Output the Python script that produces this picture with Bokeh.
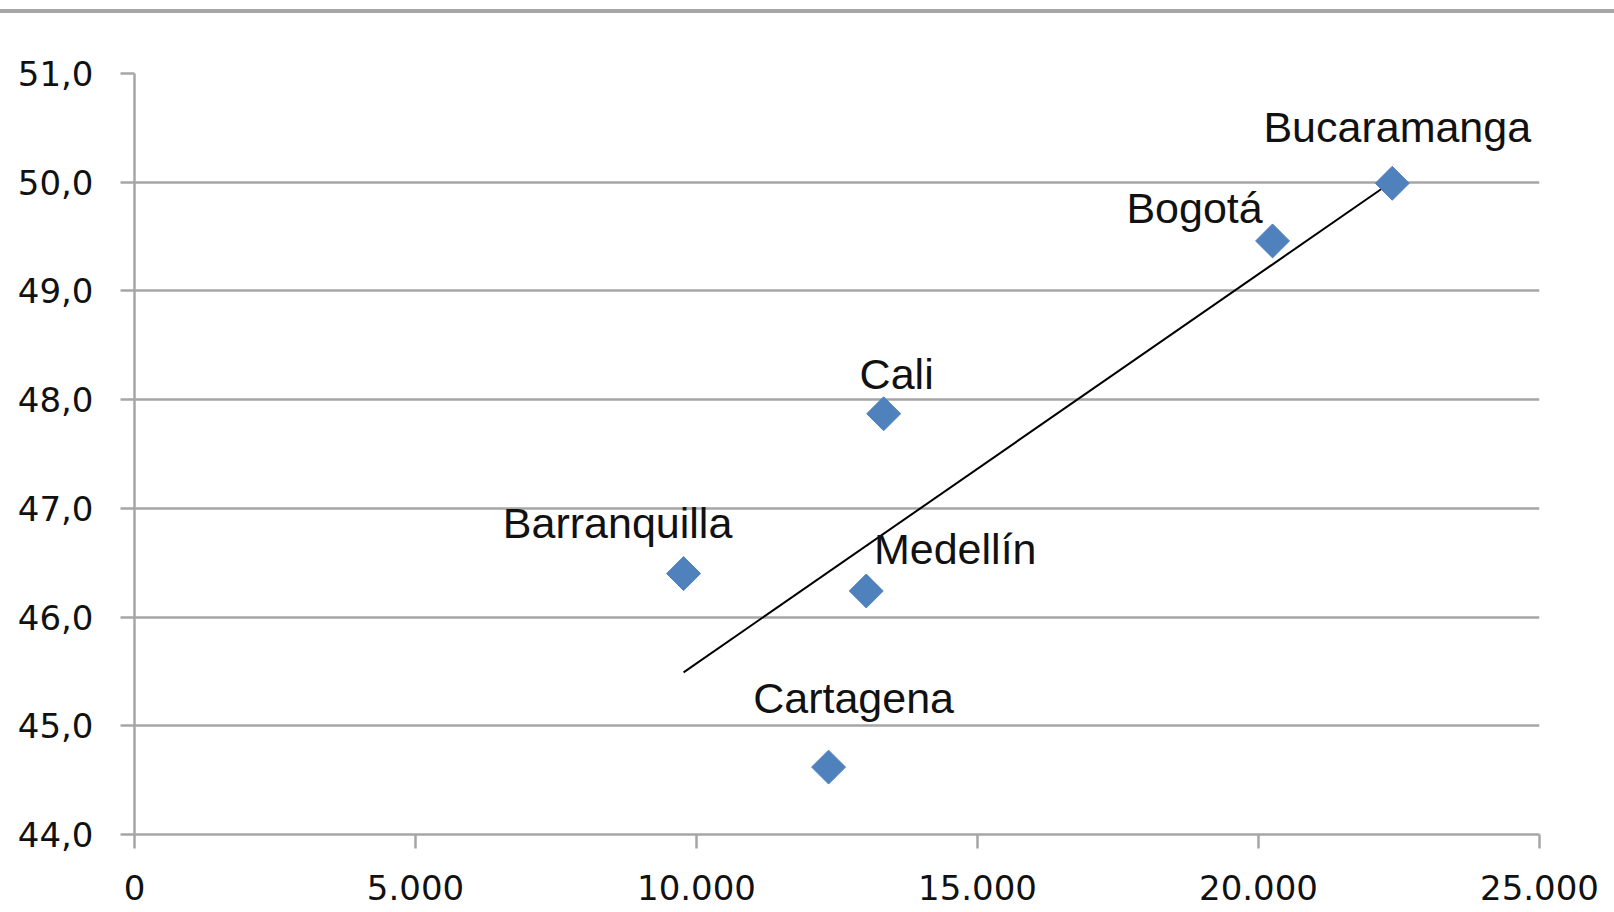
import numpy as np
from bokeh.plotting import figure
from bokeh.models import (ColumnDataSource, Range1d, FixedTicker,
                          CustomJSTickFormatter, Div)
from bokeh.layouts import column
from bokeh.core.properties import value
from bokeh.embed import file_html
from bokeh.resources import INLINE

# ---- data ----
cities = ["Bucaramanga", "Bogotá", "Cali", "Barranquilla", "Medellín", "Cartagena"]
x_vals = [22380, 20250, 13330, 9770, 13020, 12350]
y_vals = [49.99, 49.46, 47.87, 46.40, 46.24, 44.62]
x_ticks = [0, 5000, 10000, 15000, 20000, 25000]
y_ticks = [44, 45, 46, 47, 48, 49, 50, 51]

# ---- label placement (style, screen px) ----
label_dx = [5, -78, 13, -66, 89, 25]
label_dy = [-56, -33, -40, -51, -42, -69]

# trendline (linear least squares, as in the original spreadsheet)
slope, intercept = np.polyfit(x_vals, y_vals, 1)
tx = [min(x_vals), max(x_vals)]
ty = [slope * v + intercept for v in tx]

W = 1614
gray = "#a6a6a6"

top_bar = Div(text="", width=W, height=4, margin=(9, 0, 0, 0),
              styles={"background-color": gray})

p = figure(width=W, height=899, toolbar_location=None, output_backend="svg",
           x_range=Range1d(0, 25000), y_range=Range1d(44, 51),
           min_border_left=134, min_border_right=75,
           min_border_top=60, min_border_bottom=78)
p.outline_line_color = None
p.background_fill_color = "white"
p.border_fill_color = "white"

p.xgrid.visible = False
p.ygrid.grid_line_color = gray
p.ygrid.grid_line_width = 2.5
p.ygrid.ticker = FixedTicker(ticks=y_ticks)

for ax in (p.xaxis[0], p.yaxis[0]):
    ax.axis_line_color = gray
    ax.axis_line_width = 2.5
    ax.major_tick_line_color = gray
    ax.major_tick_line_width = 2.5
    ax.major_tick_out = 14
    ax.major_tick_in = 0
    ax.minor_tick_line_color = None
    ax.major_label_text_font = "DejaVu Sans"
    ax.major_label_text_font_size = "34px"
    ax.major_label_text_color = "#111111"

p.xaxis[0].ticker = FixedTicker(ticks=x_ticks)
p.yaxis[0].ticker = FixedTicker(ticks=y_ticks)
p.xaxis[0].major_label_standoff = 26
p.yaxis[0].major_label_standoff = 27
p.xaxis[0].formatter = CustomJSTickFormatter(
    code="return Math.round(tick).toString().replace(/\\B(?=(\\d{3})+(?!\\d))/g, '.');")
p.yaxis[0].formatter = CustomJSTickFormatter(
    code="return tick.toFixed(1).replace('.', ',');")

# trendline
p.line(tx, ty, line_color="black", line_width=2)

src = ColumnDataSource(dict(x=x_vals, y=y_vals, name=cities,
                            dx=label_dx, dy=label_dy))
p.scatter("x", "y", source=src, marker="square", size=24, angle=np.pi / 4,
          fill_color="#4F81BD", line_color="#4F81BD", line_width=1)

p.text("x", "y", text="name", source=src, x_offset="dx", y_offset="dy",
       text_align="center", text_baseline="alphabetic",
       text_font=value("Liberation Sans"), text_font_size="43px",
       text_color="#111111")

layout = column(top_bar, p, spacing=0)
open("out.html", "w").write(file_html(layout, INLINE))
